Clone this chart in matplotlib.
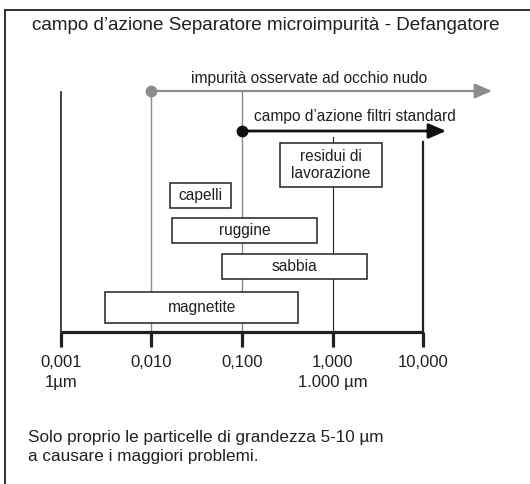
import numpy as np
import matplotlib
matplotlib.use('Agg')
import matplotlib.pyplot as plt

plt.rcParams['font.family'] = ['Liberation Sans', 'DejaVu Sans']

# scala delle grandezze (mm)
ticks = [0.001, 0.01, 0.1, 1, 10]
tick_labels = ['0,001\n1µm', '0,010', '0,100', '1,000\n1.000 µm', '10,000']

# impurità: intervallo di grandezza
particles = ['residui di\nlavorazione', 'capelli', 'ruggine', 'sabbia', 'magnetite']
p_min = [0.26, 0.016, 0.017, 0.060, 0.0031]
p_max = [3.5, 0.076, 0.68, 2.4, 0.42]

# frecce dei campi
ranges = ['impurità osservate ad occhio nudo', 'campo d\u2019azione filtri standard']
r_start = [0.01, 0.1]
r_end = [58, 18]

title = 'campo d\u2019azione Separatore microimpurità - Defangatore'
note = 'Solo proprio le particelle di grandezza 5-10 µm\na causare i maggiori problemi.'

# layout (pixel dall'alto)
row_top = [143, 183, 218, 254, 292]
row_bot = [187, 208, 243, 279, 323]
arrow_y = [91, 131]
label_x = [309, 355]
label_y = [78, 116]
arrow_col = ['#8c8c8c', '#111111']
axis_y = 332
ink = '#231f20'

fig = plt.figure(figsize=(5.3, 4.84), dpi=100)
ax = fig.add_axes([0, 0, 1, 1])
ax.set_xscale('log')
px = 90.5  # pixel per decade


def lx(p):
    # pixel orizzontale -> valore sulla scala log
    return 10 ** (-3 + (p - 61) / px)


ax.set_xlim(lx(0), lx(530))
ax.set_ylim(484, 0)
ax.axis('off')

# cornice (solo sopra e a sinistra)
ax.plot([lx(5.5), lx(600)], [9.5, 9.5], color=ink, lw=1.3, clip_on=False)
ax.plot([lx(5.5), lx(5.5)], [9.5, 500], color=ink, lw=1.3, clip_on=False)

# linee verticali
ax.plot([ticks[0], ticks[0]], [92, axis_y], color=ink, lw=1.2)
ax.plot([ticks[1], ticks[1]], [arrow_y[0], axis_y], color='#8c8c8c', lw=1.0)
ax.plot([ticks[2], ticks[2]], [arrow_y[0], axis_y], color='#8c8c8c', lw=1.0)
ax.plot([ticks[3], ticks[3]], [137, axis_y], color=ink, lw=0.8)
ax.plot([ticks[4], ticks[4]], [142, axis_y], color=ink, lw=1.6)

# asse
ax.plot([ticks[0], ticks[-1]], [axis_y, axis_y], color=ink, lw=2.3, solid_capstyle='butt')
for t in ticks:
    ax.plot([t, t], [axis_y, axis_y + 15], color=ink, lw=2.3, solid_capstyle='butt')
for t, lab in zip(ticks, tick_labels):
    ax.text(t, 355, lab, ha='center', va='top', fontsize=12, color=ink, linespacing=1.45)

# frecce
for i in range(2):
    ax.annotate('', xy=(r_end[i], arrow_y[i]), xytext=(r_start[i], arrow_y[i]),
                arrowprops=dict(arrowstyle='-|>,head_length=1.05,head_width=0.45',
                                color=arrow_col[i], lw=1.6 if i == 0 else 2.0,
                                shrinkA=0, shrinkB=0), zorder=3)
    ax.plot(r_start[i], arrow_y[i], 'o', color=arrow_col[i], ms=7.5, zorder=4)
    ax.text(lx(label_x[i]), label_y[i], ranges[i], ha='center', va='center',
            fontsize=11.2, color=ink)

# riquadri delle impurità
for name, a, b, t, bt in zip(particles, p_min, p_max, row_top, row_bot):
    ax.fill([a, b, b, a], [t, t, bt, bt], facecolor='white', edgecolor=ink, lw=1.1, zorder=5)
    ax.text(np.sqrt(a * b), (t + bt) / 2, name, ha='center', va='center',
            fontsize=11.2, color=ink, zorder=6, linespacing=1.15)

ax.text(lx(266), 25, title, fontsize=13.6, color=ink, ha='center', va='center')
ax.text(lx(28), 447, note, fontsize=12.3, color=ink, ha='left', va='center', linespacing=1.35)

fig.savefig('out.png', dpi=100)
